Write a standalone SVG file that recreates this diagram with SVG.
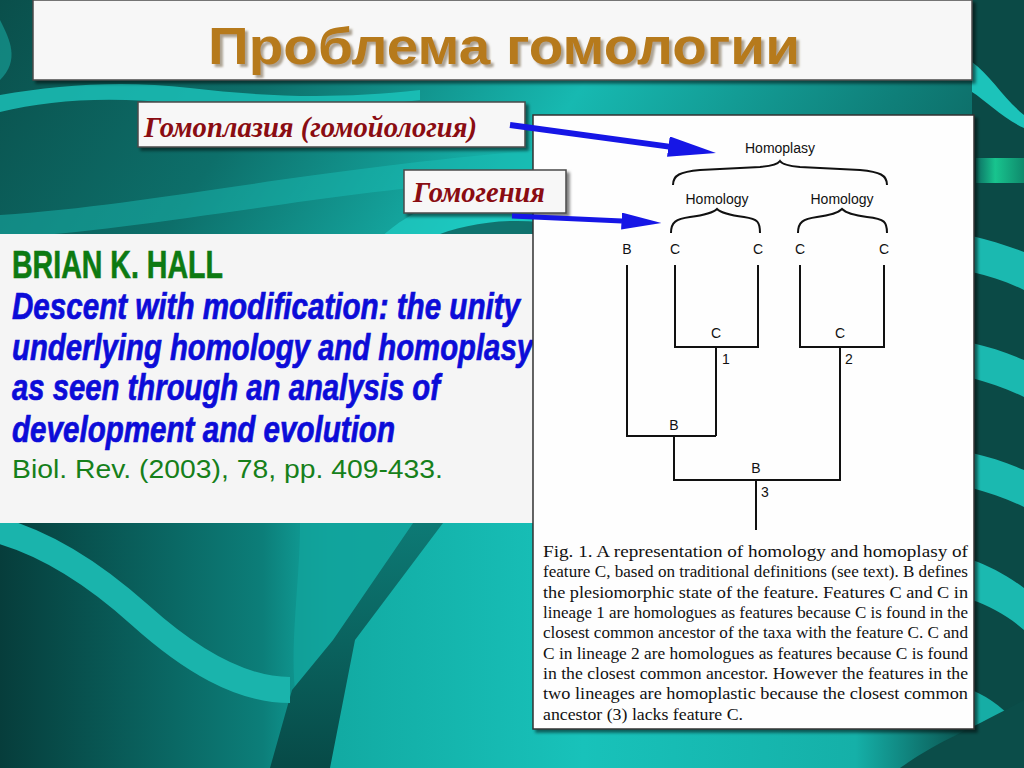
<svg xmlns="http://www.w3.org/2000/svg" width="1024" height="768" viewBox="0 0 1024 768">
<defs>
<linearGradient id="bgTop" x1="0" y1="0" x2="1" y2="0.5">
<stop offset="0" stop-color="#0a4f4b"/><stop offset="0.25" stop-color="#0d6f6a"/><stop offset="0.5" stop-color="#17b9b1"/><stop offset="0.75" stop-color="#0f7f79"/><stop offset="1" stop-color="#0a4a46"/>
</linearGradient>
<linearGradient id="bgBot" x1="0" y1="0" x2="1" y2="0">
<stop offset="0" stop-color="#063d3b"/><stop offset="0.27" stop-color="#0c7e79"/><stop offset="0.34" stop-color="#12aaa2"/><stop offset="0.6" stop-color="#18c2ba"/><stop offset="0.88" stop-color="#15b0a8"/><stop offset="1" stop-color="#0a4d49"/>
</linearGradient>
<linearGradient id="stripe" x1="0" y1="0" x2="0" y2="1">
<stop offset="0" stop-color="#0d7a75"/><stop offset="1" stop-color="#074a47"/>
</linearGradient>
<linearGradient id="green" x1="0" y1="0" x2="1" y2="0">
<stop offset="0" stop-color="#0c6e62"/><stop offset="0.4" stop-color="#18c48e"/><stop offset="1" stop-color="#0f8a6c"/>
</linearGradient>
<filter id="sh" x="-5%" y="-5%" width="115%" height="125%">
<feDropShadow dx="3" dy="3" stdDeviation="1.5" flood-color="#000" flood-opacity="0.5"/>
</filter>
<filter id="tsh" x="-5%" y="-10%" width="115%" height="130%">
<feDropShadow dx="3" dy="3" stdDeviation="1" flood-color="#7a6a50" flood-opacity="0.6"/>
</filter>
<marker id="ah" viewBox="0 0 8 3.4" markerWidth="8" markerHeight="3.4" refX="0.1" refY="1.7" orient="auto" markerUnits="strokeWidth">
<path d="M0,0 L8,1.7 L0,3.4 z" fill="#1616e6"/>
</marker>
<style>
.box{fill:#f7f7f7;stroke:#4a4a4a;stroke-width:1.5}
.ru{font-family:"Liberation Serif","Times New Roman",serif;font-style:italic;font-weight:bold;fill:#8a0c12;font-size:29px}
.tr{fill:none;stroke:#111;stroke-width:2}
.tl{font-family:"Liberation Sans",Arial,sans-serif;font-size:14px;fill:#111}
.cap{font-family:"Liberation Serif","Times New Roman",serif;font-size:16px;fill:#111}
.bl{font-family:"Liberation Sans",Arial,sans-serif;font-style:italic;font-weight:bold;font-size:37px;fill:#0c0cd8;stroke:#0c0cd8;stroke-width:0.7}
.arr{stroke:#1616e6;fill:none;marker-end:url(#ah)}
</style>
</defs>

<!-- background -->
<rect x="0" y="0" width="1024" height="768" fill="url(#bgTop)"/>
<path d="M0,95 C60,85 120,80 190,88 C260,96 330,100 420,90 L420,100 C330,112 250,112 180,104 C110,96 50,100 0,112 z" fill="#1cc6bd" opacity="0.8"/>
<path d="M0,20 C10,40 20,60 0,80 z" fill="#17a79f" opacity="0.6"/>
<path d="M0,215 C150,205 300,170 540,150 L540,175 C300,195 150,230 0,238 z" fill="#1bc2b9" opacity="0.45"/>
<path d="M380,238 C420,200 480,185 560,180 L560,238 z" fill="#22d9d0" opacity="0.55"/>
<path d="M430,238 C460,225 500,218 540,222 L540,238 z" fill="#0b4f4b" opacity="0.7"/>
<path d="M972,0 L1024,0 L1024,768 L972,768 z" fill="#0b4a46"/>
<path d="M972,62 C990,75 1005,100 1024,115 L1024,128 C1005,120 985,100 972,92 z" fill="#1cc3ba"/>
<rect x="976" y="158" width="48" height="25" fill="url(#green)"/>
<path d="M972,236 C990,240 1008,246 1024,252 L1024,290 C1008,282 990,276 972,272 z" fill="#1bb9b0"/>
<path d="M972,343 C990,347 1008,353 1024,360 L1024,397 C1008,389 990,383 972,378 z" fill="#1bb9b0"/>
<path d="M972,453 C990,457 1008,463 1024,470 L1024,507 C1008,499 990,493 972,488 z" fill="#1bb9b0"/>
<path d="M972,560 C990,566 1008,576 1024,588 L1024,630 C1008,616 990,606 972,600 z" fill="#1bb9b0"/>
<rect x="0" y="520" width="972" height="248" fill="url(#bgBot)"/>
<path d="M972,690 C995,700 1010,715 1024,730 L1024,768 L972,768 z" fill="#16ada5"/>
<path d="M900,768 C940,740 960,735 1024,700 L1024,768 z" fill="#0b4d49"/>
<path d="M300,523 L413,523 L333,640 L295,690 C290,640 300,580 300,523 z" fill="#12a39b" opacity="0.8"/>
<path d="M413,523 L443,523 L355,640 L330,768 L270,768 L292,690 L333,640 z" fill="url(#stripe)"/>
<path d="M-10,528 C40,540 90,570 140,615 C190,660 240,690 290,690" fill="none" stroke="#1ab4ac" stroke-width="26"/>

<!-- title -->
<g id="title">
<rect x="33" y="0" width="939" height="80" class="box" filter="url(#sh)"/>
<text x="504" y="64" text-anchor="middle" font-family="Liberation Sans, Arial, sans-serif" font-weight="bold" font-size="52" fill="#b67a1c" textLength="592" lengthAdjust="spacingAndGlyphs" filter="url(#tsh)">Проблема гомологии</text>
</g>

<!-- left reference box -->
<g id="reference">
<rect x="0" y="234" width="560" height="289" fill="#f5f5f5"/>
<text x="12" y="278" font-family="Liberation Sans, Arial, sans-serif" font-weight="bold" font-size="39" fill="#0d7a12" stroke="#0d7a12" stroke-width="0.6" textLength="211" lengthAdjust="spacingAndGlyphs">BRIAN K. HALL</text>
<text x="12" y="319" class="bl" textLength="508" lengthAdjust="spacingAndGlyphs">Descent with modification: the unity</text>
<text x="12" y="360" class="bl" textLength="521" lengthAdjust="spacingAndGlyphs">underlying homology and homoplasy</text>
<text x="12" y="400" class="bl" textLength="428" lengthAdjust="spacingAndGlyphs">as seen through an analysis of</text>
<text x="12" y="442" class="bl" textLength="383" lengthAdjust="spacingAndGlyphs">development and evolution</text>
<text x="12" y="478" font-family="Liberation Sans, Arial, sans-serif" font-size="25" fill="#16801a" textLength="431" lengthAdjust="spacingAndGlyphs">Biol. Rev. (2003), 78, pp. 409-433.</text>
</g>

<!-- figure panel -->
<g id="figure">
<rect x="533" y="115" width="441" height="614" fill="#fefefe" stroke="#333" stroke-width="1.5" filter="url(#sh)"/>
<g id="tree">
<text x="780" y="153" class="tl" text-anchor="middle">Homoplasy</text>
<path class="tr" stroke-width="1.6" d="M673,185 C673,175 680,172 700,170 L760,167 C772,166 778,164 780,161 C782,164 788,166 800,167 L860,170 C880,172 887,175 887,185"/>
<text x="717" y="204" class="tl" text-anchor="middle">Homology</text>
<text x="842" y="204" class="tl" text-anchor="middle">Homology</text>
<path class="tr" stroke-width="1.6" d="M671,233 C671,222 676,219 690,217 C705,215 713,213 717,209 C721,213 729,215 744,217 C758,219 760,222 760,233"/>
<path class="tr" stroke-width="1.6" d="M798,233 C798,222 803,219 817,217 C832,215 838,213 842,209 C846,213 852,215 867,217 C885,219 887,222 887,233"/>
<text x="627" y="254" class="tl" text-anchor="middle">B</text>
<text x="675" y="254" class="tl" text-anchor="middle">C</text>
<text x="758" y="254" class="tl" text-anchor="middle">C</text>
<text x="800" y="254" class="tl" text-anchor="middle">C</text>
<text x="884" y="254" class="tl" text-anchor="middle">C</text>
<path class="tr" d="M627,265 V436 H716 M675,265 V347 H758 V265 M716,347 V436 M800,265 V347 H884 V265 M840,347 V480 H674 V436 M756,480 V530"/>
<text x="716" y="338" class="tl" text-anchor="middle">C</text>
<text x="840" y="338" class="tl" text-anchor="middle">C</text>
<text x="726" y="364" class="tl" text-anchor="middle">1</text>
<text x="849" y="364" class="tl" text-anchor="middle">2</text>
<text x="674" y="430" class="tl" text-anchor="middle">B</text>
<text x="756" y="473" class="tl" text-anchor="middle">B</text>
<text x="765" y="497" class="tl" text-anchor="middle">3</text>
</g>
<g id="caption">
<text x="543" y="557" class="cap" textLength="425" lengthAdjust="spacingAndGlyphs">Fig. 1. A representation of homology and homoplasy of</text>
<text x="543" y="577" class="cap" textLength="425" lengthAdjust="spacingAndGlyphs">feature C, based on traditional definitions (see text). B defines</text>
<text x="543" y="598" class="cap" textLength="425" lengthAdjust="spacingAndGlyphs">the plesiomorphic state of the feature. Features C and C in</text>
<text x="543" y="618" class="cap" textLength="425" lengthAdjust="spacingAndGlyphs">lineage 1 are homologues as features because C is found in the</text>
<text x="543" y="638" class="cap" textLength="425" lengthAdjust="spacingAndGlyphs">closest common ancestor of the taxa with the feature C. C and</text>
<text x="543" y="659" class="cap" textLength="425" lengthAdjust="spacingAndGlyphs">C in lineage 2 are homologues as features because C is found</text>
<text x="543" y="679" class="cap" textLength="425" lengthAdjust="spacingAndGlyphs">in the closest common ancestor. However the features in the</text>
<text x="543" y="699" class="cap" textLength="425" lengthAdjust="spacingAndGlyphs">two lineages are homoplastic because the closest common</text>
<text x="543" y="720" class="cap" textLength="200" lengthAdjust="spacingAndGlyphs">ancestor (3) lacks feature C.</text>
</g>
</g>

<!-- label nodes -->
<g id="label-homoplasy">
<rect x="138" y="102" width="387" height="45" class="box" filter="url(#sh)"/>
<text x="144" y="137" class="ru" textLength="333" lengthAdjust="spacingAndGlyphs">Гомоплазия (гомойология)</text>
</g>
<g id="label-homogeny">
<rect x="404" y="170" width="162" height="43" class="box" filter="url(#sh)"/>
<text x="413" y="202" class="ru" textLength="132" lengthAdjust="spacingAndGlyphs">Гомогения</text>
</g>

<!-- connectors -->
<g id="connectors">
<line class="arr" x1="510" y1="125" x2="669" y2="146.6" stroke-width="6"/>
<line class="arr" x1="512" y1="216" x2="622" y2="221.1" stroke-width="5"/>
</g>
</svg>
